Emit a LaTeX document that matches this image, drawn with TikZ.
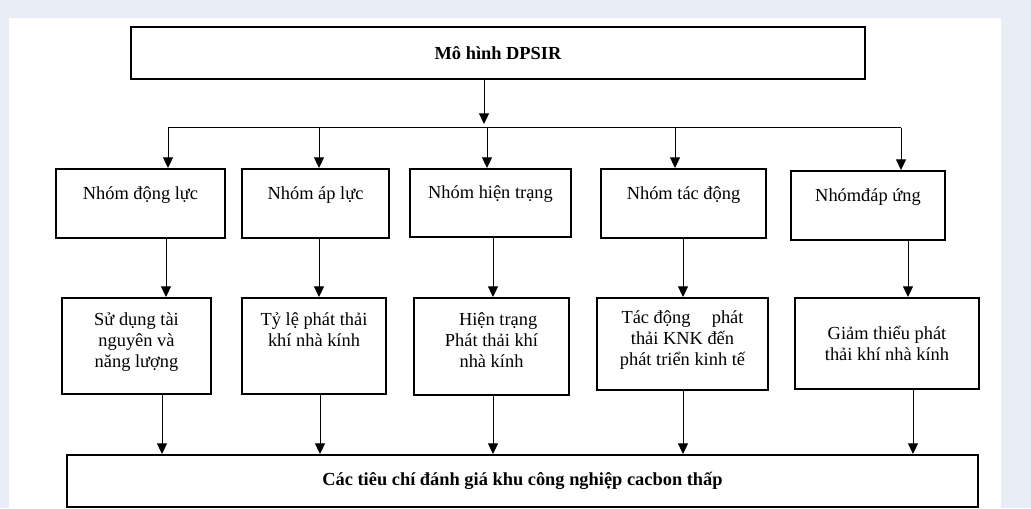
\documentclass[tikz,border=0pt]{standalone}
\usepackage{fontspec}
\setmainfont{Liberation Serif}
\usetikzlibrary{arrows.meta}
\definecolor{pagebg}{HTML}{E9EDF7}
\begin{document}
\begin{tikzpicture}[x=0.75pt,y=0.75pt,
    box/.style={draw,line width=1.5pt,inner sep=2pt,align=center,
      font=\fontsize{13.8}{15.8}\selectfont},
    hdr/.style={box,font=\fontsize{13.8}{15.8}\selectfont\bfseries},
    grp/.style={box,text depth=16pt},
    item/.style={box,text depth=9pt},
    link/.style={line width=0.75pt},
    arr/.style={link,-{Triangle[length=8pt,width=7.5pt]}}]
    \useasboundingbox (0,0) rectangle (1031,508);
    \fill[pagebg] (0,0) rectangle (1031,508);
    \fill[white] (9,0) rectangle (1001,490);
    %
    \node[hdr,minimum width=550.5pt,minimum height=39pt] (dpsir) at (498,455) {Mô hình DPSIR};
    %
    \node[grp,minimum width=126.75pt,minimum height=51.75pt] (g1) at (140.5,304.5) {Nhóm động lực};
    \node[grp,minimum width=110.25pt,minimum height=51.75pt] (g2) at (315.5,304.5) {Nhóm áp lực};
    \node[grp,minimum width=120.75pt,minimum height=51pt] (g3) at (490.5,305) {Nhóm hiện trạng};
    \node[grp,minimum width=123.75pt,minimum height=51.75pt] (g4) at (683.5,304.5) {Nhóm tác động};
    \node[grp,minimum width=115.5pt,minimum height=51.75pt] (g5) at (868,302.5) {Nhómđáp ứng};
    %
    \node[item,minimum width=111.75pt,minimum height=72pt] (i1) at (136.5,162) {Sử dụng tài\\nguyên và\\năng lượng};
    \node[item,minimum width=108pt,minimum height=72pt] (i2) at (314,162) {Tỷ lệ phát thải\\khí nhà kính\\\strut};
    \node[item,minimum width=116.25pt,minimum height=72.75pt] (i3) at (491.5,161.5) {\hspace*{10pt}Hiện trạng\\Phát thải khí\\nhà kính};
    \node[item,minimum width=128.25pt,minimum height=69pt] (i4) at (682.5,164) {Tác động\hspace{16pt}phát\\thải KNK đến\\phát triển kinh tế};
    \node[box,minimum width=138pt,minimum height=68.25pt] (i5) at (887,164.5) {Giảm thiểu phát\\thải khí nhà kính};
    %
    \node[hdr,minimum width=683.25pt,minimum height=39pt] (crit) at (522.5,27) {Các tiêu chí đánh giá khu công nghiệp cacbon thấp};
    %
    \coordinate (t0) at (484,380);
    \coordinate (b1) at (168,380);
    \coordinate (b2) at (319,380);
    \coordinate (b3) at (487,380);
    \coordinate (b4) at (675,380);
    \coordinate (b5) at (901,380);
    \coordinate (c1) at (166,0);
    \coordinate (c2) at (319,0);
    \coordinate (c3) at (493,0);
    \coordinate (c4) at (683,0);
    \coordinate (c5) at (908,0);
    \coordinate (d1) at (162,0);
    \coordinate (d2) at (320,0);
    \coordinate (d3) at (493,0);
    \coordinate (d4) at (683,0);
    \coordinate (d5) at (913,0);
    %
    \draw[arr,shorten >=3pt] (dpsir.south -| t0) -- (t0);
    \draw[link] (b1) -- (b5);
    \draw[arr] (b1) -- (g1.north -| b1);
    \draw[arr] (b2) -- (g2.north -| b2);
    \draw[arr] (b3) -- (g3.north -| b3);
    \draw[arr] (b4) -- (g4.north -| b4);
    \draw[arr] (b5) -- (g5.north -| b5);
    %
    \draw[arr] (g1.south -| c1) -- (i1.north -| c1);
    \draw[arr] (g2.south -| c2) -- (i2.north -| c2);
    \draw[arr] (g3.south -| c3) -- (i3.north -| c3);
    \draw[arr] (g4.south -| c4) -- (i4.north -| c4);
    \draw[arr] (g5.south -| c5) -- (i5.north -| c5);
    %
    \draw[arr] (i1.south -| d1) -- (crit.north -| d1);
    \draw[arr] (i2.south -| d2) -- (crit.north -| d2);
    \draw[arr] (i3.south -| d3) -- (crit.north -| d3);
    \draw[arr] (i4.south -| d4) -- (crit.north -| d4);
    \draw[arr] (i5.south -| d5) -- (crit.north -| d5);
\end{tikzpicture}
\end{document}
